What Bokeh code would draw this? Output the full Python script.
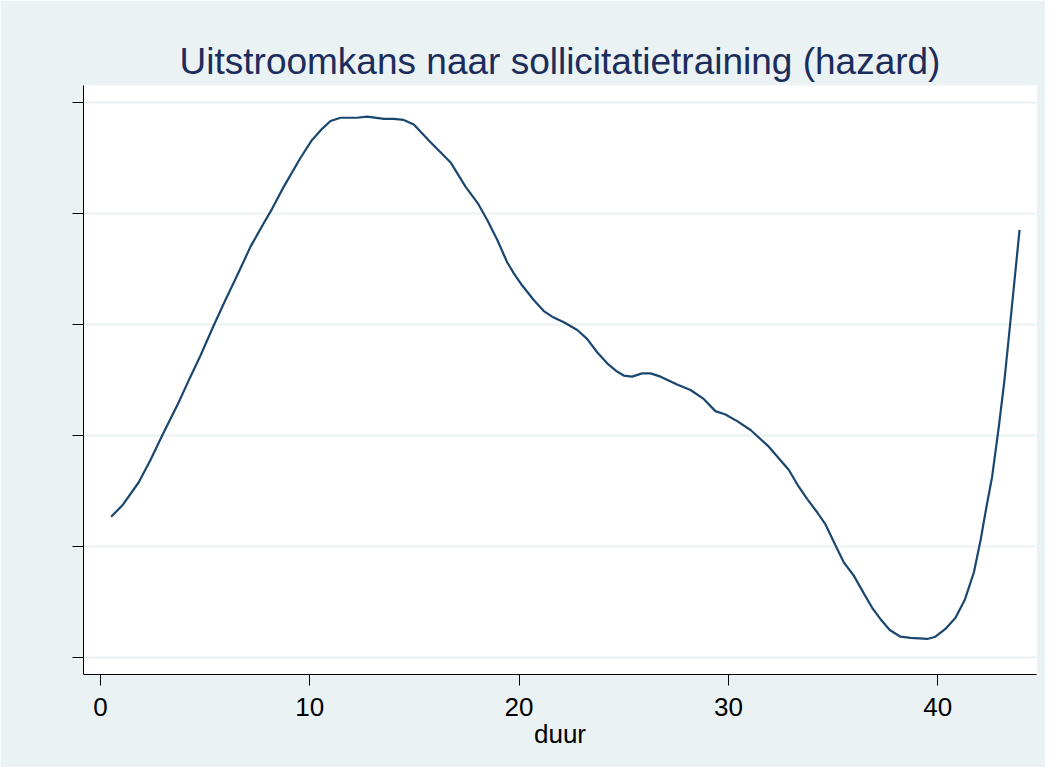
from bokeh.plotting import figure
from bokeh.models import FixedTicker, Range1d
from bokeh.embed import file_html
from bokeh.resources import INLINE

# duration (duur) and smoothed hazard (arbitrary units; y-axis unlabeled)
duur = [0.51, 1.04, 1.83, 2.39, 2.95, 3.74, 4.30, 4.78, 5.41, 5.97, 6.53, 7.17, 7.80, 8.20,
        8.76, 9.56, 10.11, 10.59, 10.99, 11.47, 12.26, 12.74, 13.54, 14.01, 14.49, 14.97,
        15.77, 16.72, 17.44, 18.03, 18.48, 18.96, 19.43, 19.75, 20.15, 20.70, 21.18, 21.58,
        22.14, 22.78, 23.25, 23.73, 24.21, 24.65, 25.00, 25.40, 25.88, 26.28, 26.76, 27.55,
        28.19, 28.82, 29.38, 29.86, 30.42, 31.06, 31.93, 32.89, 33.36, 33.76, 34.24, 34.64,
        35.12, 35.51, 35.99, 36.47, 36.87, 37.26, 37.71, 38.22, 38.70, 39.50, 39.89, 40.37,
        40.85, 41.29, 41.73, 42.05, 42.33, 42.60, 42.92, 43.19, 43.48, 43.91]
hazard = [1.27, 1.37, 1.58, 1.78, 2.00, 2.30, 2.53, 2.72, 2.99, 3.22, 3.44, 3.70, 3.91, 4.04,
          4.24, 4.50, 4.66, 4.76, 4.83, 4.86, 4.86, 4.87, 4.85, 4.85, 4.84, 4.80,
          4.64, 4.46, 4.24, 4.09, 3.94, 3.76, 3.56, 3.46, 3.35, 3.22, 3.12, 3.07,
          3.02, 2.95, 2.87, 2.75, 2.65, 2.58, 2.54, 2.53, 2.56, 2.56, 2.53, 2.46,
          2.41, 2.33, 2.22, 2.19, 2.13, 2.05, 1.90, 1.69, 1.54, 1.43, 1.31, 1.20,
          1.01, 0.86, 0.74, 0.58, 0.45, 0.35, 0.25, 0.19, 0.18, 0.17, 0.19, 0.26,
          0.36, 0.52, 0.77, 1.06, 1.36, 1.63, 2.08, 2.50, 3.04, 3.85]

x_ticks = [0, 10, 20, 30, 40]
y_ticks = [0, 1, 2, 3, 4, 5]

title_text = "Uitstroomkans naar sollicitatietraining (hazard)"
x_label = "duur"

BG = "#EAF2F3"
NAVY = "#1A476F"
TITLE_COL = "#1C2C5B"
FONT = "Liberation Sans"

p = figure(width=1045, height=767, output_backend="svg", toolbar_location=None,
           x_range=Range1d(-0.81, 44.72), y_range=Range1d(-0.15, 5.15),
           min_border_left=83, min_border_right=9, min_border_top=85, min_border_bottom=93)

p.background_fill_color = "white"
p.border_fill_color = BG
p.outline_line_color = None

p.title.text = title_text
p.title.align = "center"
p.title.text_font = FONT
p.title.text_font_size = "37px"
p.title.text_font_style = "normal"
p.title.text_color = TITLE_COL
p.title.standoff = 8

p.line(duur, hazard, line_color=NAVY, line_width=2.2)

# x axis
p.xaxis.ticker = FixedTicker(ticks=x_ticks)
p.xaxis.axis_label = x_label
p.xaxis.axis_label_text_font = FONT
p.xaxis.axis_label_text_font_size = "26px"
p.xaxis.axis_label_text_font_style = "normal"
p.xaxis.axis_label_text_color = "black"
p.xaxis.axis_label_standoff = 0
p.xaxis.major_label_text_font = FONT
p.xaxis.major_label_text_font_size = "26px"
p.xaxis.major_label_text_color = "black"
p.xaxis.major_label_standoff = 12
p.xaxis.major_tick_out = 11
p.xaxis.major_tick_in = 0
p.xaxis.minor_tick_line_color = None
p.xaxis.axis_line_color = "black"
p.xaxis.major_tick_line_color = "black"

# y axis (no labels)
p.yaxis.ticker = FixedTicker(ticks=y_ticks)
p.yaxis.major_label_text_color = None
p.yaxis.major_label_text_font_size = "1px"
p.yaxis.major_tick_out = 11
p.yaxis.major_tick_in = 0
p.yaxis.minor_tick_line_color = None
p.yaxis.axis_line_color = "black"
p.yaxis.major_tick_line_color = "black"

p.xgrid.grid_line_color = None
p.ygrid.grid_line_color = BG
p.ygrid.grid_line_width = 2
p.ygrid.ticker = FixedTicker(ticks=y_ticks)

open("out.html", "w").write(file_html(p, INLINE))
